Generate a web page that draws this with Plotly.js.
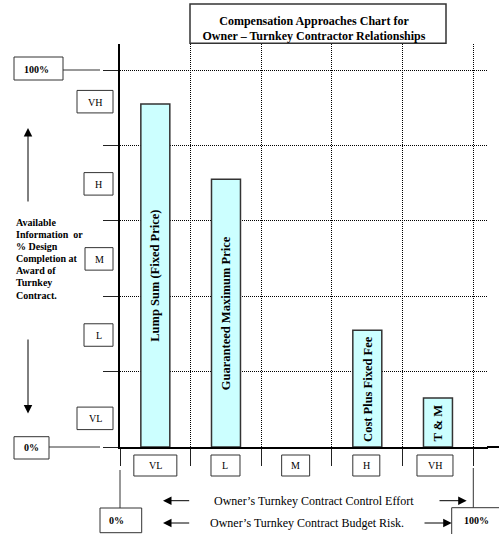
<!DOCTYPE html>
<html><head><meta charset="utf-8">
<script src="https://cdn.plot.ly/plotly-3.0.1.min.js"></script>
<style>html,body{margin:0;padding:0;background:#fff;}#chart{width:499px;height:534px;}</style>
</head><body><div id="chart"></div>
<script>
// ---- data ----
const effortLevels = ['VL', 'L', 'M', 'H', 'VH'];          // x categories (control effort / budget risk)
const infoLevels = ['VL', 'L', 'M', 'H', 'VH'];            // y levels (available information)
const infoLevelValues = [7.6, 29.7, 49.9, 69.8, 91.6];     // where each y level label sits (% design completion)
const approaches = ['Lump Sum (Fixed Price)', 'Guaranteed Maximum Price', 'Cost Plus Fixed Fee', 'T &amp; M'];
const approachEffort = ['VL', 'L', 'H', 'VH'];
const designCompletion = [91, 71, 31, 13];
const titleLines = ['Compensation Approaches Chart for', 'Owner – Turnkey Contractor Relationships'];
const sideLabel = ['Available', 'Information\u00a0 or', '% Design', 'Completion at', 'Award of', 'Turnkey', 'Contract.'];
const axisNotes = ['Owner’s Turnkey Contract Control Effort', 'Owner’s Turnkey Contract Budget Risk.'];
const scaleEnds = ['0%', '100%'];

// ---- layout geometry (pixels) ----
const W = 499, H = 534, L = 120, R = 488, T = 44, B = 447;
const pxPerUnit = (447 - 70) / 100;
const catW = (473.3 - 120) / 5;
const px = x => (x - L) / (R - L);
const py = y => (B - y) / (B - T);
const FONT = "'Liberation Serif', 'Times New Roman', serif";

const shapes = [];
const annotations = [];
function rect(x0, x1, y0, y1, lw) {
  shapes.push({type: 'rect', xref: 'paper', yref: 'paper', x0: px(x0), x1: px(x1), y0: py(y0), y1: py(y1),
    line: {color: '#333', width: lw || 1}, fillcolor: 'rgba(0,0,0,0)', layer: 'above'});
}
function line(x0, y0, x1, y1, w, c) {
  shapes.push({type: 'line', xref: 'paper', yref: 'paper', x0: px(x0), x1: px(x1), y0: py(y0), y1: py(y1),
    line: {color: c || '#333', width: w || 1}, layer: 'above'});
}
function label(text, x, y, size, anchor, bold) {
  annotations.push({xref: 'paper', yref: 'paper', x: px(x), y: py(y), xanchor: anchor || 'center', yanchor: 'middle',
    text: bold ? '<b>' + text + '</b>' : text, showarrow: false,
    font: {family: FONT, size: size, color: '#000'}});
}
function arrow(xTip, yTip, xTail, yTail) {
  annotations.push({xref: 'paper', yref: 'paper', x: px(xTip), y: py(yTip), ax: xTail - xTip, ay: yTail - yTip,
    axref: 'pixel', ayref: 'pixel', text: '', showarrow: true, arrowhead: 2, arrowsize: 1.7, arrowwidth: 1,
    arrowcolor: '#000'});
}

// bar labels (vertical, centred in each bar)
approaches.forEach((t, i) => {
  annotations.push({xref: 'x', yref: 'y', x: approachEffort[i], y: designCompletion[i] / 2, textangle: -90,
    text: '<b>' + t + '</b>', showarrow: false, font: {family: FONT, size: 12.5, color: '#000'}});
});

// title box
rect(190, 446, 4, 43.3, 1.5);

// y level boxes
const yBoxW = {VL: 36, L: 29, M: 28, H: 29, VH: 36};
infoLevels.forEach((lv, i) => {
  const cy = B - infoLevelValues[i] * pxPerUnit;
  const h = 22.5;
  rect(113 - yBoxW[lv], 113, cy - h / 2, cy + h / 2);
  label(lv, 113 - yBoxW[lv] / 2, cy + 0.5, 10);
});

// x level boxes
const xBoxW = {VL: 43, L: 29, M: 28, H: 27, VH: 36};
const xBoxShift = {VL: 0, L: -0.5, M: -1, H: -1, VH: -3};
effortLevels.forEach((lv, i) => {
  const cx = L + catW * (i + 0.5) + xBoxShift[lv];
  rect(cx - xBoxW[lv] / 2, cx + xBoxW[lv] / 2, 455, 476);
  label(lv, cx, 466, 10);
});

// percentage boxes and leader lines
rect(14, 63, 57, 80);   label(scaleEnds[1], 21.7, 69, 10, 'left', true);
rect(14, 49, 436.7, 459); label(scaleEnds[0], 21.7, 448, 10, 'left', true);
rect(100, 141.7, 508, 532.7); label(scaleEnds[0], 106.7, 520.5, 10, 'left', true);
rect(451.7, 512, 507.7, 540); label(scaleEnds[1], 461.7, 520, 10, 'left', true);
line(63, 70, 100, 70, 1);
line(49, 447, 100, 447, 1);
line(120, 470, 120, 508, 1);
line(473.3, 468, 473.3, 507.7, 1);
line(487, 447, 499, 447, 2, '#000');

// side description
sideLabel.forEach((t, i) => label(t, 14, 222.7 + i * 12.05, 10, 'left', true));
arrow(28, 128, 28, 203);
arrow(28, 413.5, 28, 338);

// bottom notes
label(axisNotes[0], 314, 500.5, 12);
label(axisNotes[1], 307.3, 523, 12);
arrow(163, 500.7, 190.7, 500.7);
arrow(466.7, 500.7, 438, 500.7);
arrow(163, 523, 190.7, 523);
arrow(451.7, 523, 423, 523);

const data = [{
  type: 'bar', x: approachEffort, y: designCompletion, width: 0.41,
  marker: {color: '#ccffff', line: {color: '#333', width: 1.5}},
  hoverinfo: 'none', showlegend: false
}];

const layout = {
  width: W, height: H,
  margin: {l: L, r: W - R, t: T, b: H - B, pad: 0},
  paper_bgcolor: '#fff', plot_bgcolor: '#fff',
  showlegend: false,
  title: {text: '<b>' + titleLines[0] + '</b><br><b>' + titleLines[1] + '</b>',
    xref: 'container', yref: 'container', x: 314 / W, y: 1 - 24.5 / H, xanchor: 'center', yanchor: 'middle',
    font: {family: FONT, size: 12, color: '#000'}},
  xaxis: {
    type: 'category', categoryorder: 'array', categoryarray: effortLevels,
    range: [-0.5, -0.5 + (R - L) / catW], fixedrange: true,
    showline: true, linecolor: '#000', linewidth: 2,
    tickson: 'boundaries', ticks: 'outside', ticklen: 17, tickwidth: 1, tickcolor: '#222',
    showticklabels: false,
    showgrid: true, gridcolor: '#000', gridwidth: 1, griddash: '1px,1px', zeroline: false
  },
  yaxis: {
    range: [0, (B - T) / pxPerUnit], fixedrange: true,
    tickmode: 'linear', tick0: 0, dtick: 20,
    showline: true, linecolor: '#000', linewidth: 2,
    ticks: 'outside', ticklen: 15, tickwidth: 1, tickcolor: '#222',
    showticklabels: false,
    showgrid: true, gridcolor: '#000', gridwidth: 1, griddash: '1px,1px', zeroline: false
  },
  shapes: shapes,
  annotations: annotations
};

Plotly.newPlot('chart', data, layout, {staticPlot: true, displayModeBar: false});
</script>
</body></html>
